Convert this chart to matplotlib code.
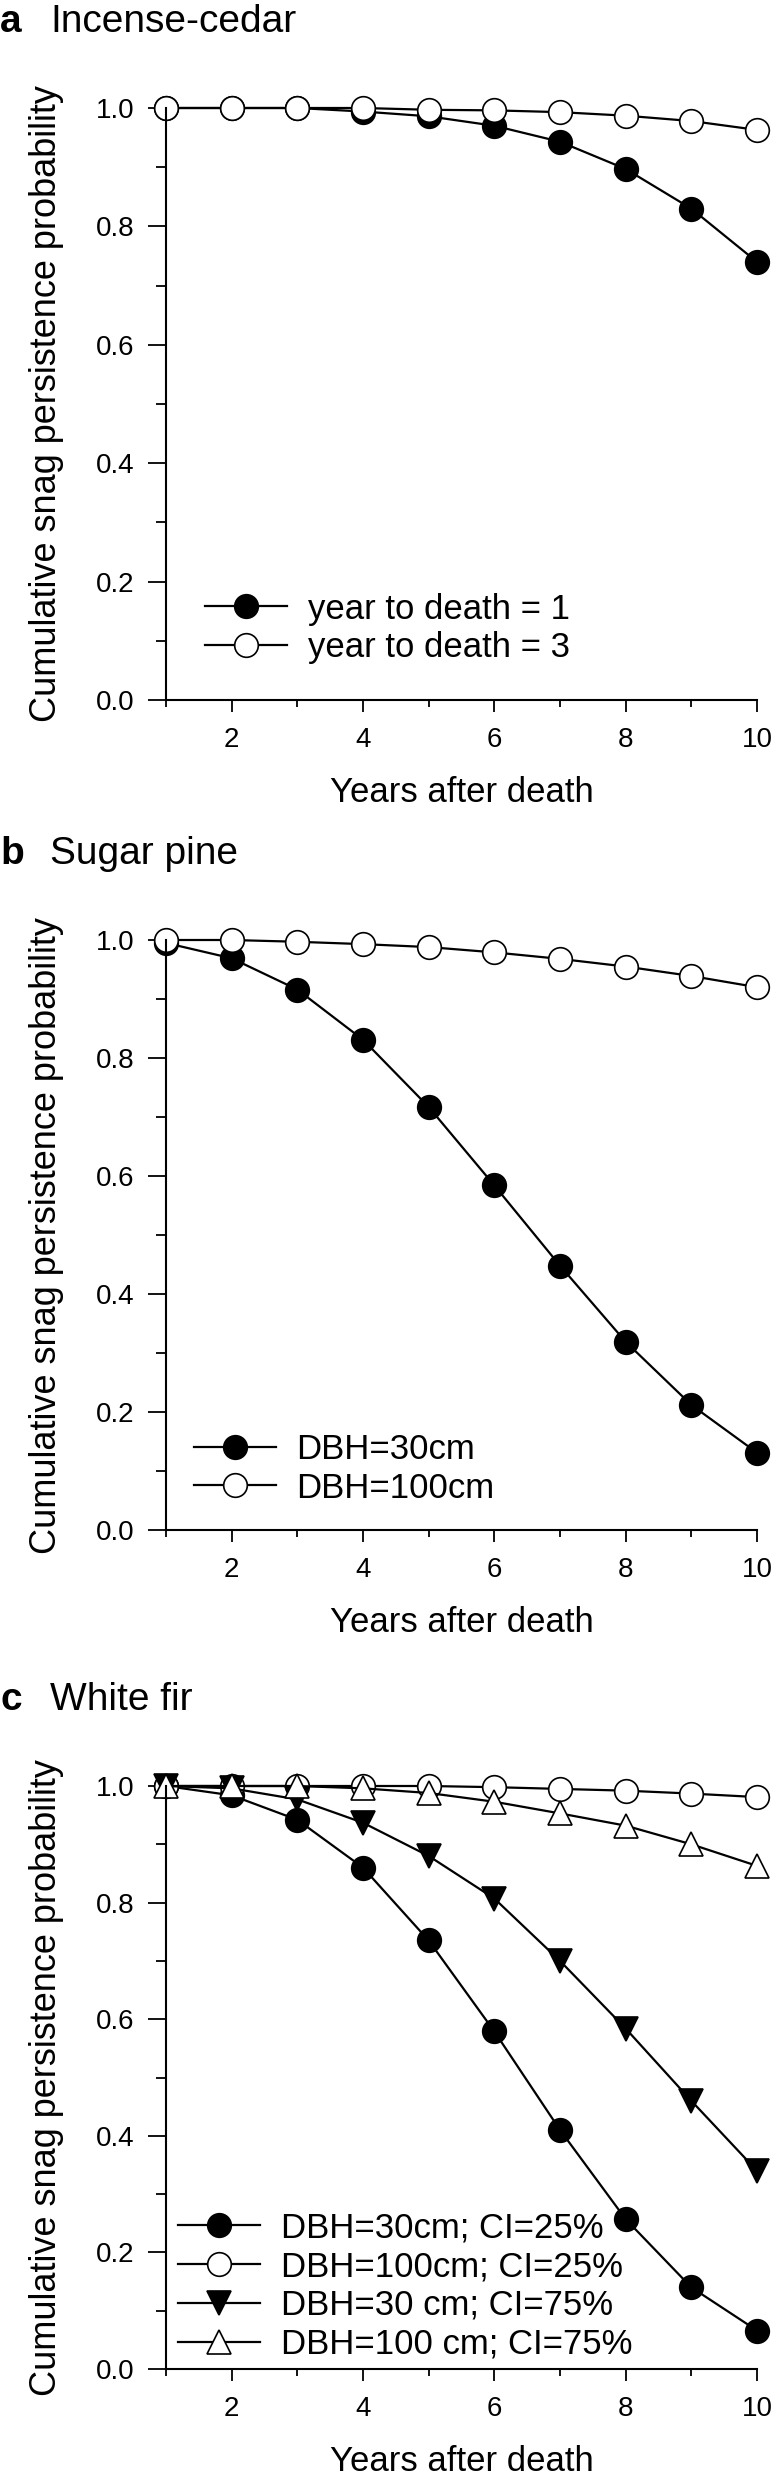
"""
Cumulative snag persistence probability for three species (panels a-c).
"""
import matplotlib.pyplot as plt
from matplotlib.ticker import FormatStrFormatter, MultipleLocator

YEARS = [1, 2, 3, 4, 5, 6, 7, 8, 9, 10]

# a  Incense-cedar
CEDAR_YTD1 = [1.0, 1.0, 1.0, 0.994, 0.986, 0.970, 0.943, 0.897, 0.830, 0.740]
CEDAR_YTD3 = [1.0, 1.0, 1.0, 1.0, 0.997, 0.996, 0.993, 0.987, 0.978, 0.963]

# b  Sugar pine
PINE_DBH30 = [0.995, 0.969, 0.916, 0.831, 0.717, 0.584, 0.448, 0.319, 0.212, 0.131]
PINE_DBH100 = [1.0, 1.0, 0.997, 0.993, 0.988, 0.979, 0.968, 0.955, 0.939, 0.920]

# c  White fir
FIR_30_25 = [1.0, 0.984, 0.942, 0.860, 0.735, 0.579, 0.410, 0.257, 0.140, 0.066]
FIR_100_25 = [1.0, 1.0, 1.0, 1.0, 1.0, 0.998, 0.995, 0.992, 0.987, 0.981]
FIR_30_75 = [1.0, 0.996, 0.977, 0.937, 0.880, 0.807, 0.700, 0.584, 0.460, 0.340]
FIR_100_75 = [1.0, 1.0, 1.0, 0.996, 0.988, 0.973, 0.953, 0.932, 0.900, 0.863]

FONT = ["Liberation Sans", "DejaVu Sans"]

FIG_W, FIG_H = 774, 2481
AX_LEFT, AX_RIGHT = 166, 757
# (top px, bottom px) of each panel's axes
PANELS_PX = [(108, 700), (940, 1530), (1786, 2369)]

STYLES = {
    "filled_circle": dict(marker="o", mfc="black", ms=17),
    "open_circle": dict(marker="o", mfc="white", ms=17),
    "filled_down": dict(marker="v", mfc="black", ms=17),
    "open_up": dict(marker="^", mfc="white", ms=17),
}


def make_axes(fig, top, bottom):
    """Add one panel's axes from pixel edges"""
    rect = [AX_LEFT / FIG_W, 1 - bottom / FIG_H,
            (AX_RIGHT - AX_LEFT) / FIG_W, (bottom - top) / FIG_H]
    return fig.add_axes(rect)


def format_axes(axes):
    """Ticks, limits and spines of one panel"""
    axes.set_xlim(1, 10)
    axes.set_ylim(0, 1.0)
    for side in ("top", "right"):
        axes.spines[side].set_visible(False)
    for side in ("left", "bottom"):
        axes.spines[side].set_linewidth(1.5)

    axes.xaxis.set_major_locator(MultipleLocator(2))
    axes.xaxis.set_minor_locator(MultipleLocator(1))
    axes.yaxis.set_major_locator(MultipleLocator(0.2))
    axes.yaxis.set_minor_locator(MultipleLocator(0.1))
    axes.yaxis.set_major_formatter(FormatStrFormatter("%.1f"))

    axes.tick_params(which="both", direction="out", width=1.3)
    axes.tick_params(axis="x", which="major", length=8.5, pad=11)
    axes.tick_params(axis="x", which="minor", length=5)
    axes.tick_params(axis="y", which="major", length=13, pad=10)
    axes.tick_params(axis="y", which="minor", length=7)
    for label in axes.get_xticklabels() + axes.get_yticklabels():
        label.set_fontfamily(FONT)
        label.set_fontsize(20)


def plot_series(axes, yvals, style, label):
    """Draw one line with its markers"""
    axes.plot(YEARS, yvals, color="black", lw=1.6, mec="black", mew=1.2,
              clip_on=False, label=label, **STYLES[style])


def add_texts(fig, top, bottom, letter, name):
    """Panel letter, species name, axis labels"""
    base = 1 - (top - 76) / FIG_H
    fig.text(0.0, base, letter, fontsize=28, fontweight="bold",
             family=FONT, va="baseline", ha="left")
    fig.text(50 / FIG_W, base, name, fontsize=28, family=FONT,
             va="baseline", ha="left")
    fig.text(47 / FIG_W, 1 - (top + bottom) / 2 / FIG_H,
             "Cumulative snag persistence probability", fontsize=26,
             family=FONT, rotation=90, va="center", ha="center")
    fig.text((AX_LEFT + AX_RIGHT) / 2 / FIG_W, 1 - (bottom + 102) / FIG_H,
             "Years after death", fontsize=25, family=FONT,
             va="baseline", ha="center")


def add_legend(axes, anchor):
    """Frameless legend in the lower left corner"""
    axes.legend(loc="lower left", bbox_to_anchor=anchor, frameon=False,
                borderpad=0, borderaxespad=0, handlelength=2.36,
                handletextpad=0.6, labelspacing=0.17, numpoints=1,
                prop={"family": FONT, "size": 25})


def main():
    """Build the three panels and save"""
    fig = plt.figure(figsize=(FIG_W / 100, FIG_H / 100), dpi=100)

    top, bottom = PANELS_PX[0]
    ax_a = make_axes(fig, top, bottom)
    format_axes(ax_a)
    plot_series(ax_a, CEDAR_YTD1, "filled_circle", "year to death = 1")
    plot_series(ax_a, CEDAR_YTD3, "open_circle", "year to death = 3")
    add_legend(ax_a, (0.066, 0.060))
    add_texts(fig, top, bottom, "a", "Incense-cedar")

    top, bottom = PANELS_PX[1]
    ax_b = make_axes(fig, top, bottom)
    format_axes(ax_b)
    plot_series(ax_b, PINE_DBH30, "filled_circle", "DBH=30cm")
    plot_series(ax_b, PINE_DBH100, "open_circle", "DBH=100cm")
    add_legend(ax_b, (0.047, 0.043))
    add_texts(fig, top, bottom, "b", "Sugar pine")

    top, bottom = PANELS_PX[2]
    ax_c = make_axes(fig, top, bottom)
    format_axes(ax_c)
    plot_series(ax_c, FIR_30_25, "filled_circle", "DBH=30cm; CI=25%")
    plot_series(ax_c, FIR_100_25, "open_circle", "DBH=100cm; CI=25%")
    plot_series(ax_c, FIR_30_75, "filled_down", "DBH=30 cm; CI=75%")
    plot_series(ax_c, FIR_100_75, "open_up", "DBH=100 cm; CI=75%")
    add_legend(ax_c, (0.021, 0.014))
    add_texts(fig, top, bottom, "c", "White fir")

    fig.savefig("out.png", dpi=100)


if __name__ == "__main__":
    main()
